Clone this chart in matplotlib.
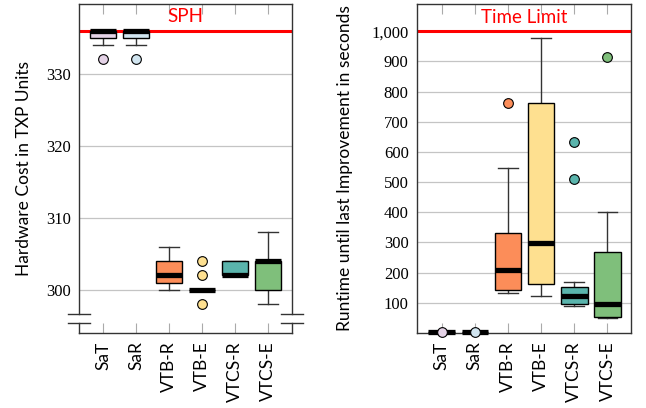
import matplotlib
matplotlib.use('Agg')
import matplotlib.pyplot as plt
from matplotlib.ticker import FuncFormatter

# categories and colours
labels = ['SaT', 'SaR', 'VTB-R', 'VTB-E', 'VTCS-R', 'VTCS-E']
colors = ['#e4d2e6', '#d1e5f0', '#fc8d59', '#fee090', '#5ab4ac', '#7fbf7b']

# hardware cost (left)
cost_q1 = [335, 335, 301, 300, 302, 300]
cost_med = [336, 336, 302, 300, 302, 304]
cost_q3 = [336, 336, 304, 300, 304, 304]
cost_lo = [334, 334, 300, 300, 302, 298]
cost_hi = [336, 336, 306, 300, 304, 308]
cost_fliers = [[332], [332], [], [298, 302, 304], [], []]
sph = 336

# runtime until last improvement (right)
time_q1 = [2, 2, 142, 164, 96, 53]
time_med = [3, 3, 208, 297, 123, 97]
time_q3 = [4, 4, 331, 761, 153, 268]
time_lo = [1, 1, 134, 122, 91, 51]
time_hi = [5, 5, 547, 976, 170, 400]
time_fliers = [[3], [3], [763], [], [510, 634], [914]]
time_limit = 1000

sans = ['Lato', 'DejaVu Sans']
serif = ['Liberation Serif', 'DejaVu Serif']


def stats(q1, med, q3, lo, hi, fl):
    out = []
    for i in range(len(labels)):
        out.append(dict(q1=q1[i], med=med[i], q3=q3[i], whislo=lo[i],
                        whishi=hi[i], fliers=fl[i], label=labels[i]))
    return out


def draw(ax, st):
    pos = list(range(1, len(labels) + 1))
    res = ax.bxp(st, positions=pos, widths=0.8, capwidths=0.6,
                 patch_artist=True, manage_ticks=False,
                 boxprops=dict(edgecolor='black', linewidth=1.0),
                 medianprops=dict(color='black', linewidth=3.8, solid_capstyle='butt'),
                 whiskerprops=dict(color='#333333', linewidth=1.0),
                 capprops=dict(color='#333333', linewidth=1.0),
                 flierprops=dict(marker='o', markersize=7, markeredgecolor='black',
                                 markeredgewidth=0.8))
    for i, b in enumerate(res['boxes']):
        b.set_facecolor(colors[i])
        b.set_zorder(3)
        res['fliers'][i].set_markerfacecolor(colors[i])
        res['fliers'][i].set_zorder(5)
        res['medians'][i].set_zorder(4)
    ax.set_xticks(pos)
    ax.set_xticklabels(labels, rotation=90, family=sans, fontsize=12.5)
    ax.tick_params(axis='x', direction='in', length=7, color='#aaaaaa',
                   top=True, pad=6)
    ax.tick_params(axis='y', direction='in', length=0, pad=6)
    for t in ax.get_yticklabels():
        t.set_family(serif)
        t.set_fontsize(12)
    ax.yaxis.grid(True, color='#c4c4c4', linewidth=0.9)
    ax.set_axisbelow(True)
    for s in ax.spines.values():
        s.set_color('#333333')
        s.set_linewidth(1.0)


fig = plt.figure(figsize=(6.46, 4.08), dpi=100)
ax1 = fig.add_axes([0.1223, 0.1838, 0.3297, 0.8064])
ax2 = fig.add_axes([0.6455, 0.1838, 0.3313, 0.8064])

# left
ax1.set_ylim(294.0, 339.7)
ax1.set_xlim(0.265, 6.72)
ax1.set_yticks([300, 310, 320, 330])
draw(ax1, stats(cost_q1, cost_med, cost_q3, cost_lo, cost_hi, cost_fliers))
ax1.axhline(sph, color='red', linewidth=2.2, zorder=2)
ax1.text(3.5, 338.0, 'SPH', color='red', ha='center', va='center',
         family=sans, fontsize=13.5)
ax1.set_ylabel('Hardware Cost in TXP Units', family=sans, fontsize=12.5, labelpad=10)

# broken y axis at the bottom
b_lo, b_hi = 295.4, 296.6
ax1.spines['left'].set_visible(False)
ax1.spines['right'].set_visible(False)
tr = ax1.get_yaxis_transform()
for x in [0, 1]:
    ax1.plot([x, x], [294.0, b_lo], transform=tr, color='#333333', lw=1.0, clip_on=False)
    ax1.plot([x, x], [b_hi, 339.7], transform=tr, color='#333333', lw=1.0, clip_on=False)
    for yb in [b_lo, b_hi]:
        ax1.plot([x - 0.052, x + 0.052], [yb, yb], transform=tr, color='#333333',
                 lw=1.0, clip_on=False)

# right
ax2.set_ylim(0, 1090)
ax2.set_xlim(0.255, 6.71)
ax2.set_yticks(list(range(100, 1001, 100)))
ax2.yaxis.set_major_formatter(FuncFormatter(lambda v, p: '{:,.0f}'.format(v)))
draw(ax2, stats(time_q1, time_med, time_q3, time_lo, time_hi, time_fliers))
for f in ax2.lines:
    f.set_clip_on(False)
ax2.axhline(time_limit, color='red', linewidth=2.2, zorder=2)
ax2.text(3.5, 1045, 'Time Limit', color='red', ha='center', va='center',
         family=sans, fontsize=13.5)
ax2.set_ylabel('Runtime until last Improvement in seconds', family=sans,
               fontsize=12.5, labelpad=13)

fig.savefig('out.png', dpi=100)
